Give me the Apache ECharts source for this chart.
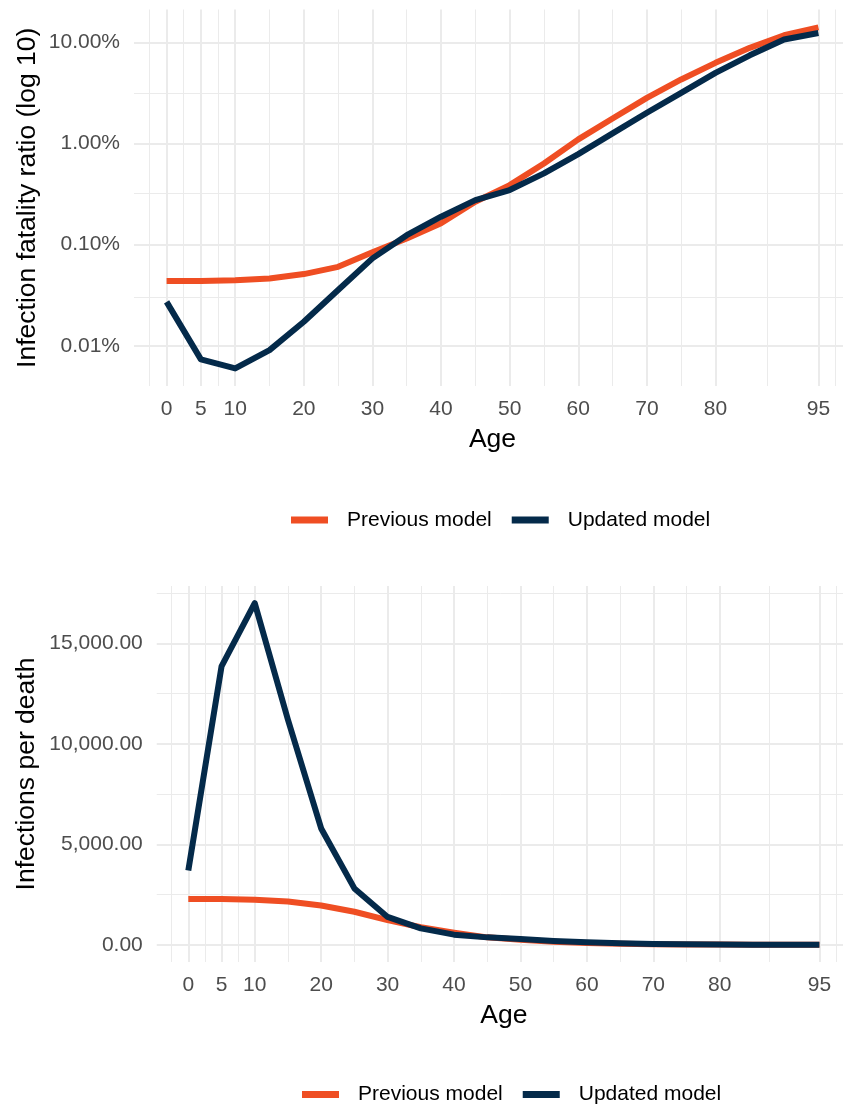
<!DOCTYPE html>
<html>
<head>
<meta charset="utf-8">
<script src="https://cdn.jsdelivr.net/npm/echarts@6/dist/echarts.min.js"></script>
<style>
html,body{margin:0;padding:0;background:#fff;}
#chart{width:843px;height:1105px;}
</style>
</head>
<body>
<div id="chart"></div>
<script>
// ---- data ----
const ages = [0,5,10,15,20,25,30,35,40,45,50,55,60,65,70,75,80,85,90,95];
// Infection fatality ratio (%)
const ifrPrevious = [0.0437,0.0438,0.0445,0.0463,0.0512,0.0604,0.084,0.115,0.163,0.266,0.388,0.636,1.10,1.77,2.83,4.31,6.29,8.85,11.8,14.1];
const ifrUpdated  = [0.0272,0.00734,0.00597,0.00906,0.0173,0.0356,0.0732,0.124,0.189,0.276,0.347,0.507,0.787,1.26,2.02,3.18,5.01,7.47,10.7,12.4];
// Infections per death
const ipdPrevious = [2280,2280,2250,2160,1960,1650,1230,880,610,376,258,157,91,56,35,23,16,11.3,8.5,7.1];
const ipdUpdated  = [3700,13850,17000,11200,5790,2810,1390,820,510,375,288,197,127,79,50,31,20,13.4,9.3,8.1];
// tick values
const ageTicks = [0,5,10,20,30,40,50,60,70,80,95];
const ageMinorTicks = [-2.5,2.5,7.5,15,25,35,45,55,65,75,87.5,97.5];
const ifrTicks = [0.01,0.1,1,10];
const ifrMinorTicks = [0.0316228,0.316228,3.16228];
const ipdTicks = [0,5000,10000,15000];
const ipdMinorTicks = [2500,7500,12500,17500];
const seriesNames = ['Previous model','Updated model'];

// ---- style ----
const FONT = 'Liberation Sans, Arial, Helvetica, sans-serif';
const COL_PREV = '#EF4E23';
const COL_UPD = '#042A4A';
const GRID = '#EBEBEB';

function gridLines(xMaj, xMin, yMaj, yMin) {
  const d = [];
  xMin.forEach(v => d.push({xAxis: v, lineStyle: {width: 1}}));
  yMin.forEach(v => d.push({yAxis: v, lineStyle: {width: 1}}));
  xMaj.forEach(v => d.push({xAxis: v, lineStyle: {width: 2}}));
  yMaj.forEach(v => d.push({yAxis: v, lineStyle: {width: 2}}));
  return {
    silent: true, z: 1, symbol: ['none','none'], animation: false,
    label: {show: false},
    lineStyle: {color: GRID, type: 'solid'},
    emphasis: {disabled: true},
    data: d
  };
}

const xAxisCommon = {
  type: 'value', min: -4.75, max: 99.75,
  axisLine: {show: false}, axisTick: {show: false}, splitLine: {show: false},
  axisLabel: {customValues: ageTicks, color: '#4D4D4D', fontSize: 21, fontFamily: FONT, margin: 13},
  name: 'Age', nameLocation: 'middle', nameGap: 40, nameMoveOverlap: false,
  nameTextStyle: {color: '#000', fontSize: 26.5, fontFamily: FONT}
};

const lineStyleBase = {width: 6, join: 'round', cap: 'butt'};

const option = {
  animation: false,
  backgroundColor: '#fff',
  textStyle: {fontFamily: FONT},
  grid: [
    {left: 134, top: 9.5, width: 717, height: 376.5, containLabel: false, outerBoundsMode: 'none'},
    {left: 156.75, top: 586, width: 694.2, height: 376, containLabel: false, outerBoundsMode: 'none'}
  ],
  xAxis: [
    Object.assign({gridIndex: 0}, xAxisCommon),
    Object.assign({gridIndex: 1}, xAxisCommon)
  ],
  yAxis: [
    {
      gridIndex: 0, type: 'log', logBase: 10, min: 0.004, max: 21.2,
      axisLine: {show: false}, axisTick: {show: false}, splitLine: {show: false},
      axisLabel: {
        color: '#4D4D4D', fontSize: 21, fontFamily: FONT, margin: 14,
        showMinLabel: false, showMaxLabel: false,
        formatter: v => ifrTicks.some(t => Math.abs(t - v) / t < 1e-6) ? v.toFixed(2) + '%' : ''
      },
      name: 'Infection fatality ratio (log 10)', nameLocation: 'middle', nameGap: 93, nameMoveOverlap: false,
      nameTextStyle: {color: '#000', fontSize: 26.5, fontFamily: FONT}
    },
    {
      gridIndex: 1, type: 'value', min: -850, max: 17850,
      axisLine: {show: false}, axisTick: {show: false}, splitLine: {show: false},
      axisLabel: {
        customValues: ipdTicks,
        color: '#4D4D4D', fontSize: 21, fontFamily: FONT, margin: 14,
        formatter: v => v.toLocaleString('en-US', {minimumFractionDigits: 2, maximumFractionDigits: 2})
      },
      name: 'Infections per death', nameLocation: 'middle', nameGap: 117, nameMoveOverlap: false,
      nameTextStyle: {color: '#000', fontSize: 26.5, fontFamily: FONT}
    }
  ],
  legend: [
    {
      data: seriesNames, left: 291, top: 509.5, padding: 0, itemGap: 20,
      itemWidth: 37, itemHeight: 7, icon: 'rect',
      textStyle: {color: '#000', fontSize: 21, fontFamily: FONT, padding: [0,0,0,14]},
      selectedMode: false
    },
    {
      data: seriesNames, left: 302, top: 1084, padding: 0, itemGap: 20,
      itemWidth: 37, itemHeight: 7, icon: 'rect',
      textStyle: {color: '#000', fontSize: 21, fontFamily: FONT, padding: [0,0,0,14]},
      selectedMode: false
    }
  ],
  series: [
    {
      name: seriesNames[0], type: 'line', xAxisIndex: 0, yAxisIndex: 0,
      data: ages.map((a, i) => [a, ifrPrevious[i]]),
      showSymbol: false, symbol: 'none', z: 2,
      lineStyle: Object.assign({color: COL_PREV}, lineStyleBase), itemStyle: {color: COL_PREV},
      markLine: gridLines(ageTicks, ageMinorTicks, ifrTicks, ifrMinorTicks)
    },
    {
      name: seriesNames[1], type: 'line', xAxisIndex: 0, yAxisIndex: 0,
      data: ages.map((a, i) => [a, ifrUpdated[i]]),
      showSymbol: false, symbol: 'none', z: 3,
      lineStyle: Object.assign({color: COL_UPD}, lineStyleBase), itemStyle: {color: COL_UPD}
    },
    {
      name: seriesNames[0], type: 'line', xAxisIndex: 1, yAxisIndex: 1,
      data: ages.map((a, i) => [a, ipdPrevious[i]]),
      showSymbol: false, symbol: 'none', z: 2,
      lineStyle: Object.assign({color: COL_PREV}, lineStyleBase), itemStyle: {color: COL_PREV},
      markLine: gridLines(ageTicks, ageMinorTicks, ipdTicks, ipdMinorTicks)
    },
    {
      name: seriesNames[1], type: 'line', xAxisIndex: 1, yAxisIndex: 1,
      data: ages.map((a, i) => [a, ipdUpdated[i]]),
      showSymbol: false, symbol: 'none', z: 3,
      lineStyle: Object.assign({color: COL_UPD}, lineStyleBase), itemStyle: {color: COL_UPD}
    }
  ]
};

const chart = echarts.init(document.getElementById('chart'), null, {renderer: 'canvas'});
chart.setOption(option);
</script>
</body>
</html>
